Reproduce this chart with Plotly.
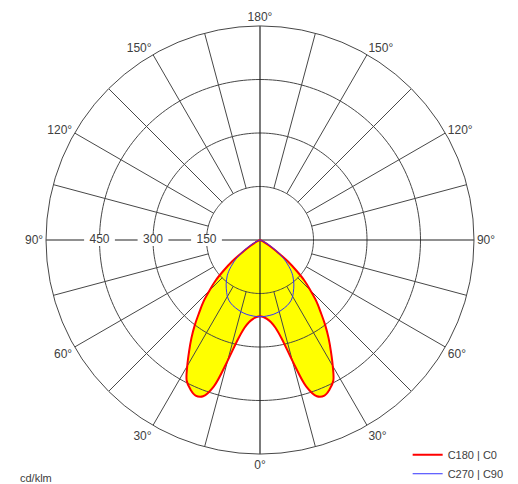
import numpy as np
import plotly.graph_objects as go

# gamma angles (deg from nadir) and intensities in cd/klm
gamma = [0, 2.5, 5, 7.5, 10, 12.5, 15, 17.5, 20, 22.5, 25, 27.5, 30, 32.5, 35,
         37.5, 40, 42.5, 45, 47.5, 50, 52.5, 55, 57.5, 60, 65, 70, 75, 80, 85, 90]
c0_c180 = [214, 216, 222, 232, 250, 285, 350, 430, 466, 472, 462, 445, 408, 370, 335,
           300, 265, 235, 200, 170, 132, 98, 62, 38, 22, 8, 3, 1, 0, 0, 0]
c90_c270 = [215, 215, 214, 213, 212, 210, 208, 205, 202, 199, 195, 190, 183, 174, 165,
            156, 146, 136, 124, 110, 96, 80, 64, 48, 34, 14, 4, 1, 0, 0, 0]

ring_values = [150, 300, 450]
ring_labels = ['150', '300', '450']
angle_ticks = [0, 30, 60, 90, 120, 150, 180, 210, 240, 270, 300, 330]
angle_labels = ['0°', '30°', '60°', '90°', '120°', '150°', '180°',
                '150°', '120°', '90°', '60°', '30°']

GRID = '#474747'
AXIS = '#222222'
TEXT = '#404040'


def mirrored(vals):
    # right half is C0 / C90, left half mirrors it as C180 / C270
    theta = list(gamma) + [360 - g for g in reversed(gamma)]
    r = list(vals) + list(reversed(vals))
    return r, theta


fig = go.Figure()

red_r, red_t = mirrored(c0_c180)
blue_r, blue_t = mirrored(c90_c270)

# yellow fill sits under the grid
fig.add_trace(go.Scatterpolar(r=red_r, theta=red_t, mode='lines', fill='toself',
                              fillcolor='#ffff00',
                              line=dict(width=0, color='#ffff00', shape='spline', smoothing=1),
                              showlegend=False, hoverinfo='skip'))

# rings
ring_theta = np.linspace(0, 360, 241)
for rv in ring_values:
    fig.add_trace(go.Scatterpolar(r=[rv] * len(ring_theta), theta=ring_theta, mode='lines',
                                  line=dict(color=GRID, width=1), showlegend=False,
                                  hoverinfo='skip'))

# spokes every 15 deg, starting at the inner ring
sp_r, sp_t = [], []
for a in range(0, 360, 15):
    if a % 90 == 0:
        continue
    sp_r += [150, 600, None]
    sp_t += [a, a, None]
fig.add_trace(go.Scatterpolar(r=sp_r, theta=sp_t, mode='lines',
                              line=dict(color=GRID, width=1), showlegend=False,
                              hoverinfo='skip'))

# main cross through the centre
ax_r, ax_t = [], []
for a in [0, 90, 180, 270]:
    ax_r += [0, 600, None]
    ax_t += [a, a, None]
fig.add_trace(go.Scatterpolar(r=ax_r, theta=ax_t, mode='lines',
                              line=dict(color=AXIS, width=1.2), showlegend=False,
                              hoverinfo='skip'))

fig.add_trace(go.Scatterpolar(r=red_r, theta=red_t, mode='lines', name='C180 | C0',
                              line=dict(color='#ff0000', width=2, shape='spline', smoothing=1)))
fig.add_trace(go.Scatterpolar(r=blue_r, theta=blue_t, mode='lines', name='C270 | C90',
                              line=dict(color='#3333ff', width=1, shape='spline', smoothing=1)))

# radial value labels on the left axis, with a white box behind
fig.add_trace(go.Scatterpolar(r=ring_values, theta=[270] * len(ring_values),
                              mode='markers+text', text=ring_labels,
                              textposition='middle center',
                              textfont=dict(size=12, color=TEXT, family='Liberation Sans'),
                              marker=dict(symbol='line-ew', size=22,
                                          line=dict(color='white', width=12)),
                              showlegend=False, hoverinfo='skip'))

fig.update_layout(
    width=518, height=484,
    margin=dict(l=38, r=52, t=18, b=38, autoexpand=False),
    paper_bgcolor='white',
    font=dict(family='Liberation Sans', size=12, color=TEXT),
    polar=dict(
        bgcolor='white',
        angularaxis=dict(rotation=270, direction='counterclockwise',
                         tickvals=angle_ticks, ticktext=angle_labels,
                         showgrid=False, showline=True, linecolor=GRID, linewidth=1,
                         ticks='', tickfont=dict(size=12, color=TEXT)),
        radialaxis=dict(range=[0, 600], showgrid=False, showline=False,
                        showticklabels=False, ticks=''),
    ),
    legend=dict(x=0.845, y=-0.08, xanchor='left', yanchor='bottom',
                font=dict(size=11, color=TEXT), bgcolor='rgba(0,0,0,0)',
                tracegroupgap=0),
    annotations=[dict(text='cd/klm', xref='paper', yref='paper', x=-0.065, y=-0.056,
                      xanchor='left', yanchor='middle', showarrow=False,
                      font=dict(size=11, color=TEXT))],
)

fig.write_html('out.html')
